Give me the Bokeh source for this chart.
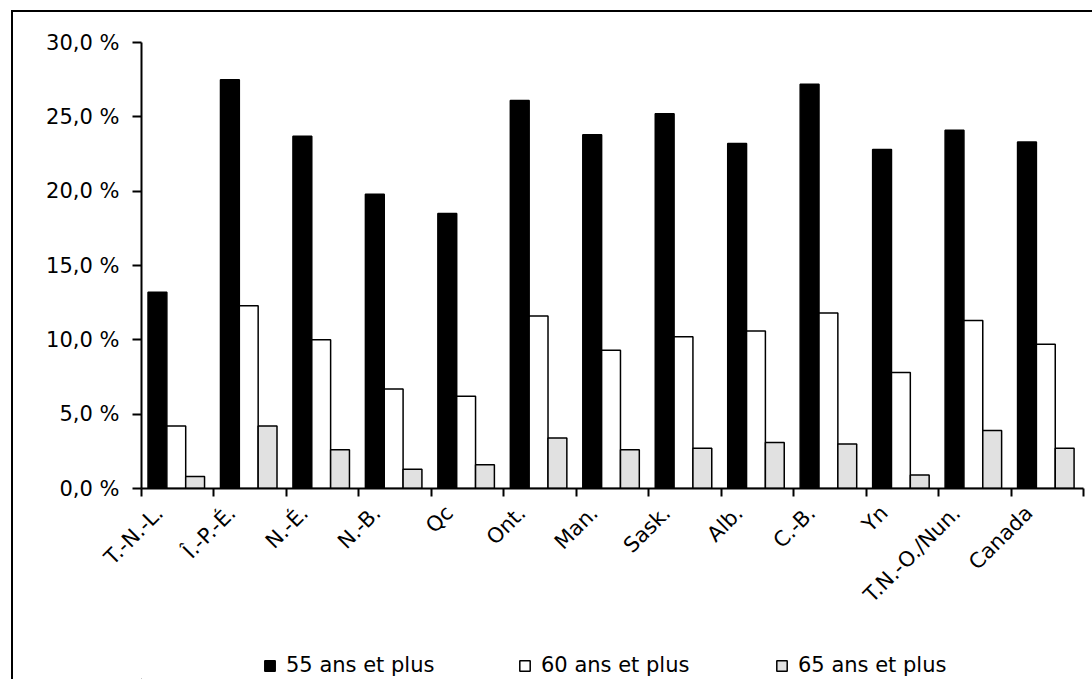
import math

from bokeh.embed import file_html
from bokeh.layouts import column
from bokeh.models import FixedTicker, Legend, LegendItem, LinearAxis, Range1d
from bokeh.plotting import figure
from bokeh.resources import INLINE

# Share of the population in each age group, by province / territory (%)
regions = ["T.-N.-L.", "Î.-P.-É.", "N.-É.", "N.-B.", "Qc", "Ont.", "Man.",
           "Sask.", "Alb.", "C.-B.", "Yn", "T.N.-O./Nun.", "Canada"]
ans55 = [13.2, 27.5, 23.7, 19.8, 18.5, 26.1, 23.8, 25.2, 23.2, 27.2, 22.8, 24.1, 23.3]
ans60 = [4.2, 12.3, 10.0, 6.7, 6.2, 11.6, 9.3, 10.2, 10.6, 11.8, 7.8, 11.3, 9.7]
ans65 = [0.8, 4.2, 2.6, 1.3, 1.6, 3.4, 2.6, 2.7, 3.1, 3.0, 0.9, 3.9, 2.7]
series_labels = ["55 ans et plus", "60 ans et plus", "65 ans et plus"]
y_ticks = [0, 5, 10, 15, 20, 25, 30]
y_tick_labels = ["0,0 %", "5,0 %", "10,0 %", "15,0 %", "20,0 %", "25,0 %", "30,0 %"]

FONT = "DejaVu Sans"
FS = "21px"
FILLS = ["black", "white", "#e1e1e1"]

# page geometry: chart box starts at (11, 10) with a 2 px rule on top/left
OX, OY, RULE = 11, 10, 2
CX, CY = OX + RULE, OY + RULE          # canvas origin on the page
W = 1092 - CX
H_MAIN = 628
H_LEG = 679 - CY - H_MAIN
FL, FT, FW, FH = 141 - CX, 42 - CY, 942, 446   # frame inside the main canvas

fig = figure(frame_width=FW, frame_height=FH, output_backend="svg",
             toolbar_location=None,
             x_range=Range1d(0, len(regions)), y_range=Range1d(0, 30),
             x_axis_type=None, y_axis_type=None,
             min_border_left=FL, min_border_right=W - FL - FW,
             min_border_top=FT, min_border_bottom=H_MAIN - FT - FH)
fig.grid.visible = False
fig.outline_line_color = None
fig.background_fill_color = "white"
fig.border_fill_color = "white"

# bars: three series side by side inside each category slot
bw = 0.26
offsets = [0.22, 0.48, 0.74]
for vals, off, fill in zip([ans55, ans60, ans65], offsets, FILLS):
    xs = [i + off for i in range(len(regions))]
    fig.vbar(x=xs, top=vals, width=bw, bottom=0, fill_color=fill,
             line_color="black", line_width=1.5)

# y axis
yax = LinearAxis(ticker=FixedTicker(ticks=y_ticks, minor_ticks=[]),
                 major_label_overrides={t: s for t, s in zip(y_ticks, y_tick_labels)})
yax.axis_line_width = 2
yax.major_tick_line_width = 2
yax.major_tick_out = 9
yax.major_tick_in = 0
yax.major_label_standoff = 13
yax.major_label_text_font = FONT
yax.major_label_text_font_size = FS
yax.major_label_text_color = "black"
fig.add_layout(yax, "left")

# x axis: tick marks on slot boundaries, names under each slot
label_pos = [i + 0.25 for i in range(len(regions))]
xax = LinearAxis(ticker=FixedTicker(ticks=label_pos,
                                    minor_ticks=list(range(len(regions) + 1))),
                 major_label_overrides={t: s for t, s in zip(label_pos, regions)})
xax.axis_line_width = 2
xax.major_tick_out = 0
xax.major_tick_in = 0
xax.minor_tick_out = 8
xax.minor_tick_in = 0
xax.minor_tick_line_width = 2
xax.major_label_orientation = math.pi / 4
xax.major_label_standoff = 13
xax.major_label_text_font = FONT
xax.major_label_text_font_size = FS
xax.major_label_text_color = "black"
fig.add_layout(xax, "below")

# legend strip under the chart (its frame lines up with the chart frame)
leg = figure(width=W, height=H_LEG, output_backend="svg", toolbar_location=None,
             x_range=Range1d(0, 1), y_range=Range1d(0, 1),
             x_axis_type=None, y_axis_type=None,
             min_border_left=0, min_border_right=0,
             min_border_top=0, min_border_bottom=0)
leg.grid.visible = False
leg.outline_line_color = None
leg.border_fill_color = "white"
leg.background_fill_color = "white"

legend_x = [263 - 141, 518 - 141, 775 - 141]   # swatch left edge, px from frame left
for lab, fill, lx in zip(series_labels, FILLS, legend_x):
    # swatch-only renderer: its single point lies far outside the visible range
    swatch = leg.vbar(x=[-100], top=[-100], bottom=-101, width=0.1,
                      fill_color=fill, line_color="black", line_width=1.5)
    lg = Legend(items=[LegendItem(label=lab, renderers=[swatch])], location=(lx, 2))
    lg.label_text_font = FONT
    lg.label_text_font_size = FS
    lg.label_text_color = "black"
    lg.glyph_width = 13
    lg.glyph_height = 13
    lg.label_standoff = 10
    lg.padding = 0
    lg.margin = 0
    lg.border_line_alpha = 0
    lg.background_fill_alpha = 0
    leg.add_layout(lg, "center")

p = column(fig, leg, spacing=0, margin=(OY, 0, 0, OX),
           styles={"border-left": f"{RULE}px solid black",
                   "border-top": f"{RULE}px solid black"})

open("out.html", "w").write(file_html(p, INLINE))
